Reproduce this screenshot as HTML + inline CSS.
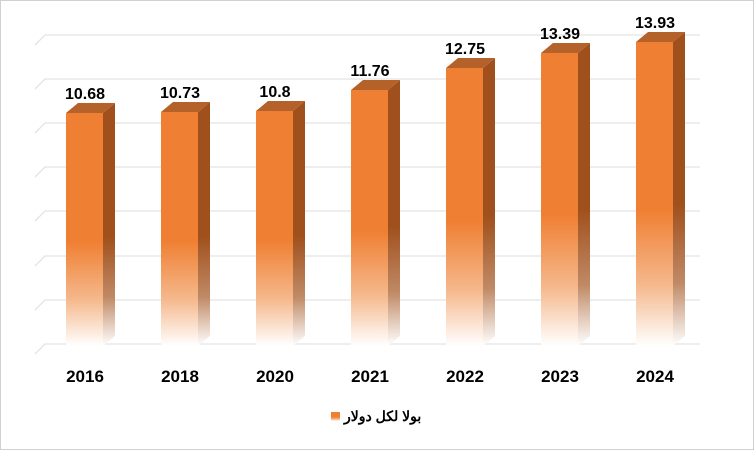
<!DOCTYPE html><html><head><style>body{margin:0;background:#fff}svg{display:block}text{font-family:"Liberation Sans",Arial,sans-serif;font-weight:bold}</style></head><body>
<svg width="754" height="450" viewBox="0 0 754 450">
<defs>
<linearGradient id="f" x1="0" y1="0" x2="0" y2="1"><stop offset="0" stop-color="#ef7f32"/><stop offset="0.55" stop-color="#ef7f32"/><stop offset="0.8" stop-color="#f5b88c"/><stop offset="1" stop-color="#fff"/></linearGradient>
<linearGradient id="s" x1="0" y1="0" x2="0" y2="1"><stop offset="0" stop-color="#a0501c"/><stop offset="0.55" stop-color="#a0501c"/><stop offset="0.8" stop-color="#c08a66"/><stop offset="1" stop-color="#fff"/></linearGradient>
</defs>
<rect x="0.5" y="0.5" width="753" height="449" fill="#fff" stroke="#d0d0d0"/>
<g stroke="#e4e4e4" stroke-width="1.3" fill="none">
<path d="M35 45L45 35H700M35 89L45 79H700M35 133L45 123H700M35 177L45 167H700M35 221L45 211H700M35 266L45 256H700M35 310L45 300H700M35 354L45 344H700"/>
</g>
<g>
<polygon points="103,113 115,103 115,336 103,346" fill="url(#s)"/><polygon points="66,113 78,103 115,103 103,113" fill="#b5612a"/><rect x="66" y="113" width="37" height="233" fill="url(#f)"/>
<polygon points="198,112 210,102 210,336 198,346" fill="url(#s)"/><polygon points="161,112 173,102 210,102 198,112" fill="#b5612a"/><rect x="161" y="112" width="37" height="234" fill="url(#f)"/>
<polygon points="293,111 305,101 305,336 293,346" fill="url(#s)"/><polygon points="256,111 268,101 305,101 293,111" fill="#b5612a"/><rect x="256" y="111" width="37" height="235" fill="url(#f)"/>
<polygon points="388,90 400,80 400,336 388,346" fill="url(#s)"/><polygon points="351,90 363,80 400,80 388,90" fill="#b5612a"/><rect x="351" y="90" width="37" height="256" fill="url(#f)"/>
<polygon points="483,68 495,58 495,336 483,346" fill="url(#s)"/><polygon points="446,68 458,58 495,58 483,68" fill="#b5612a"/><rect x="446" y="68" width="37" height="278" fill="url(#f)"/>
<polygon points="578,53 590,43 590,336 578,346" fill="url(#s)"/><polygon points="541,53 553,43 590,43 578,53" fill="#b5612a"/><rect x="541" y="53" width="37" height="293" fill="url(#f)"/>
<polygon points="673,42 685,32 685,336 673,346" fill="url(#s)"/><polygon points="636,42 648,32 685,32 673,42" fill="#b5612a"/><rect x="636" y="42" width="37" height="304" fill="url(#f)"/>
</g>
<g font-size="16" text-anchor="middle">
<text x="85" y="99">10.68</text><text x="180" y="98">10.73</text><text x="275" y="97">10.8</text><text x="370" y="76">11.76</text><text x="465" y="54">12.75</text><text x="560" y="39">13.39</text><text x="655" y="28">13.93</text>
</g>
<g font-size="17" text-anchor="middle">
<text x="85" y="382">2016</text><text x="180" y="382">2018</text><text x="275" y="382">2020</text><text x="370" y="382">2021</text><text x="465" y="382">2022</text><text x="560" y="382">2023</text><text x="655" y="382">2024</text>
</g>
<rect x="331" y="412" width="9" height="9" fill="url(#f)"/>
<text x="344" y="421" font-size="14" font-family="'Liberation Sans','DejaVu Sans',sans-serif">بولا لكل دولار</text>
</svg></body></html>
